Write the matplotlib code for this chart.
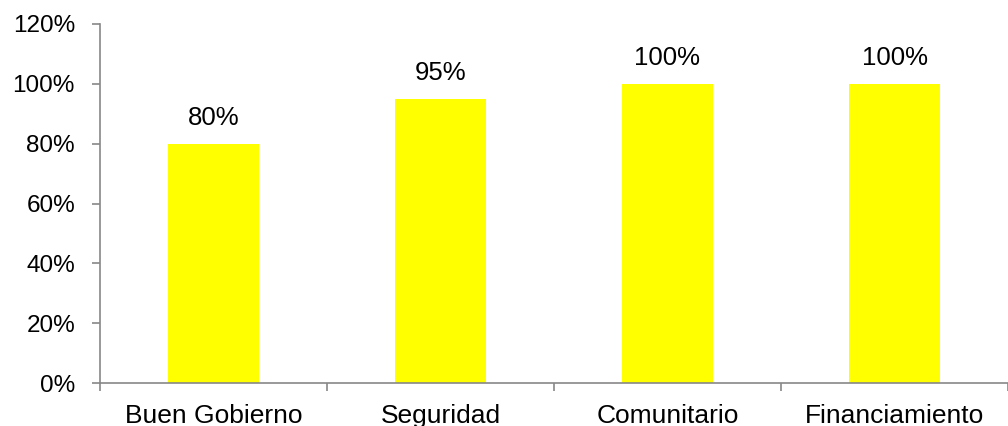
import numpy as np
import matplotlib
matplotlib.use("Agg")
import matplotlib.pyplot as plt
from matplotlib.ticker import FuncFormatter, FixedLocator

categories = ["Buen Gobierno", "Seguridad", "Comunitario", "Financiamiento"]
values = [80, 95, 100, 100]
y_ticks = [0, 20, 40, 60, 80, 100, 120]

plt.rcParams["font.family"] = ["Liberation Sans", "DejaVu Sans"]

fig = plt.figure(figsize=(10.08, 4.26), dpi=100)
ax = fig.add_axes([100 / 1008, 43 / 426, 908 / 1008, 359 / 426])

x = np.arange(len(categories))
ax.bar(x, values, width=0.405, color="#FFFF00", zorder=2)

for xi, v in zip(x, values):
    ax.annotate(f"{v}%", (xi, v), xytext=(0, 10), textcoords="offset points",
                ha="center", va="bottom", fontsize=18.5)

ax.set_xlim(-0.5, len(categories) - 0.5)
ax.set_ylim(0, 120)
ax.set_yticks(y_ticks)
ax.yaxis.set_major_formatter(FuncFormatter(lambda v, _: f"{v:.0f}%"))

ax.set_xticks(x)
ax.set_xticklabels(categories)
ax.xaxis.set_minor_locator(FixedLocator(np.arange(-0.5, len(categories), 1.0)))
ax.tick_params(axis="x", which="major", length=0, pad=15, labelsize=19)
ax.tick_params(axis="x", which="minor", length=6, width=1.2, color="#888888", direction="out")
ax.tick_params(axis="y", length=6, width=1.2, color="#888888", pad=12, labelsize=17.5)

for side in ["top", "right"]:
    ax.spines[side].set_visible(False)
for side in ["left", "bottom"]:
    ax.spines[side].set_color("#888888")
    ax.spines[side].set_linewidth(1.2)

fig.savefig("out.png", dpi=100, facecolor="white")
